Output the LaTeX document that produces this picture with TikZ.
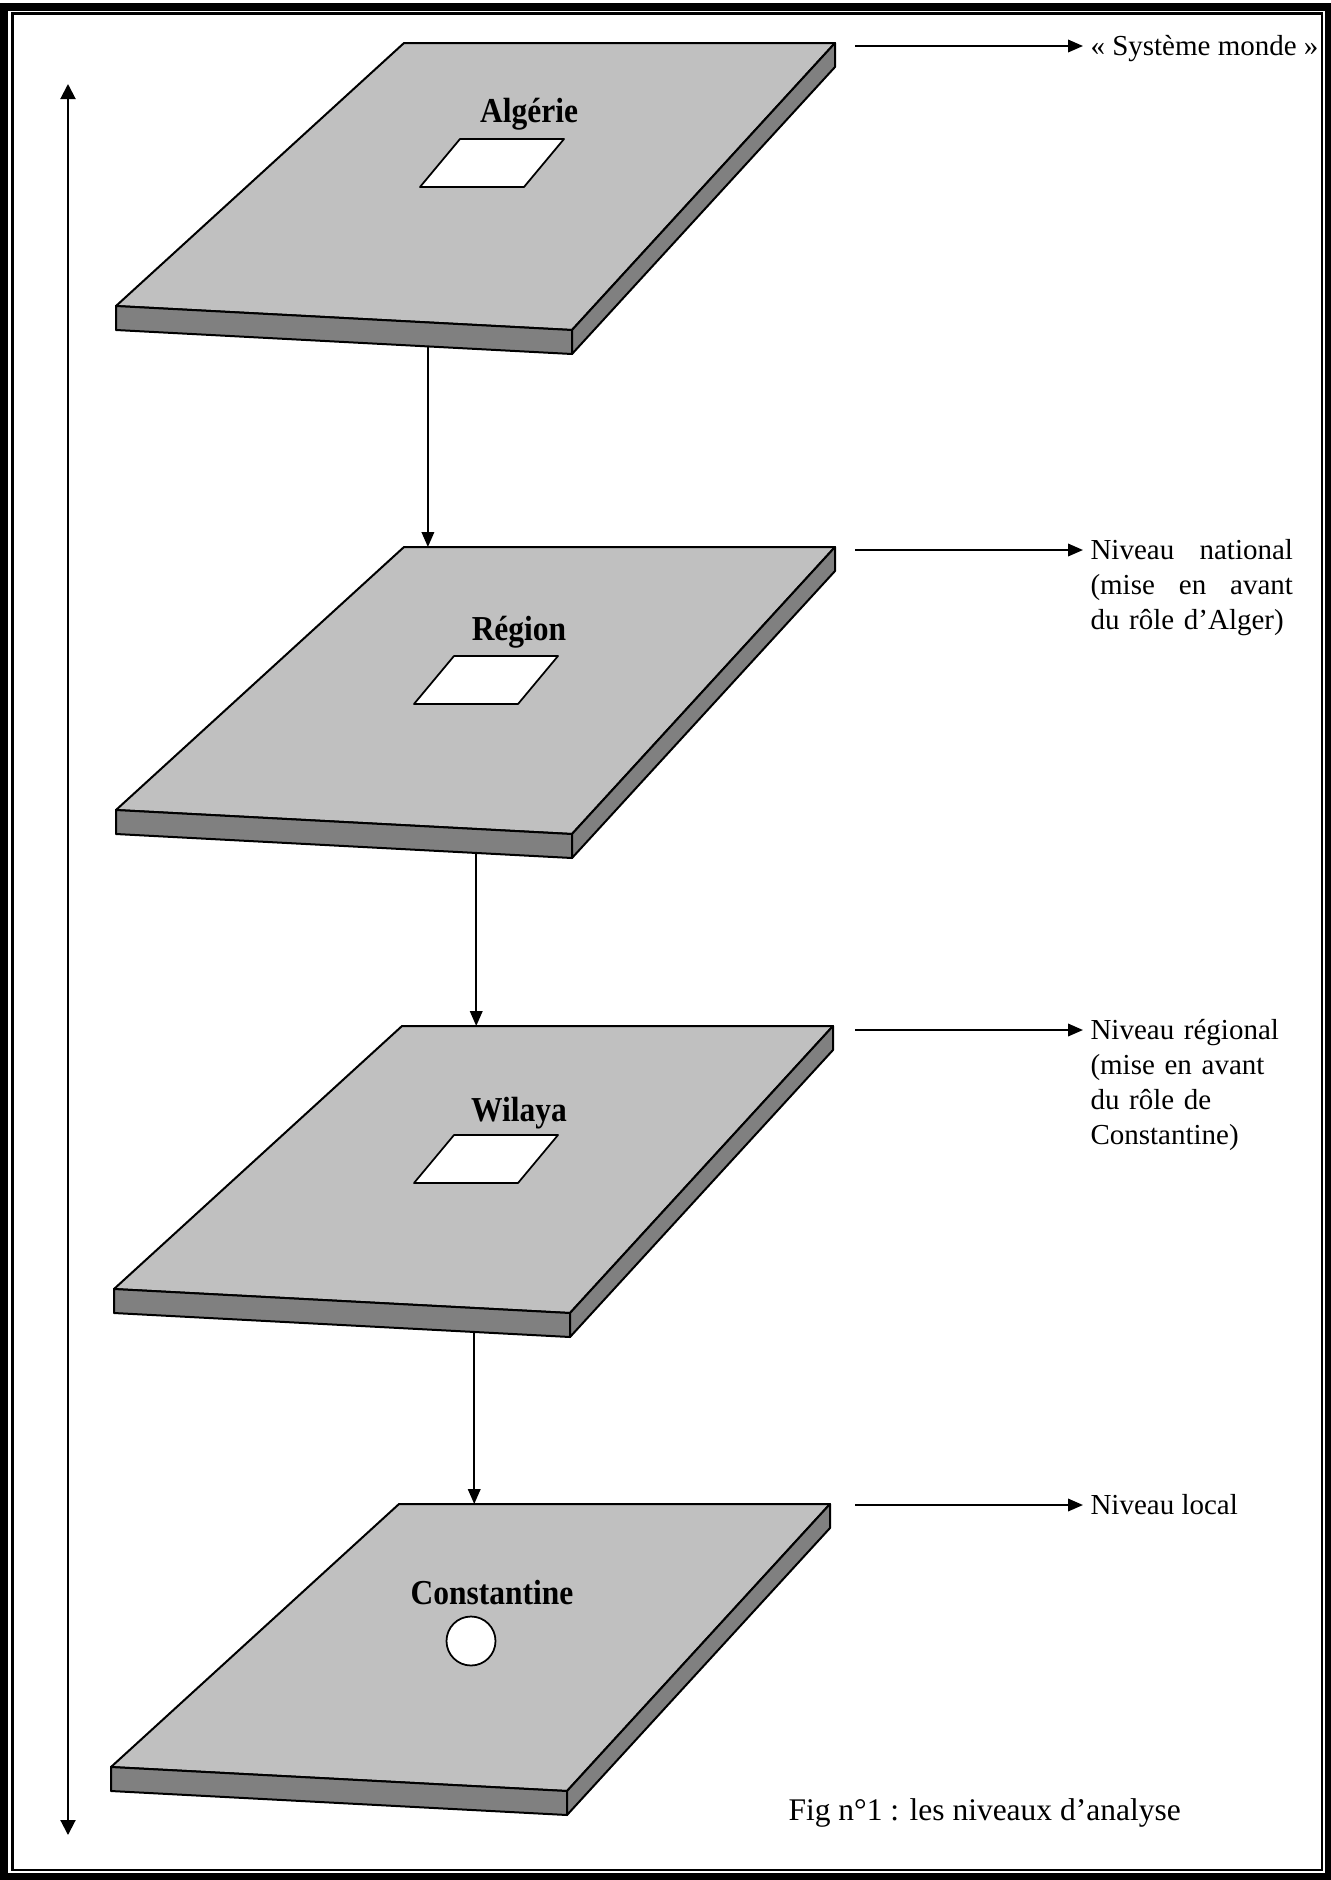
\documentclass[tikz,border=0pt]{standalone}
\usepackage{fontspec}
\usepackage{graphicx}
\setmainfont{Liberation Serif}
\usetikzlibrary{arrows.meta,calc}
\definecolor{topgray}{HTML}{C0C0C0}
\definecolor{sidegray}{HTML}{808080}
\newcommand\slablabel[1]{\scalebox{0.9}[1]{\fontsize{14}{16}\selectfont\bfseries #1}}
\newcommand\fullline[1]{\leavevmode\hbox to 81pt{#1}}
\tikzset{
  slabline/.style={draw=black, line width=0.8pt, line join=round},
  holeline/.style={draw=black, fill=white, line width=0.7pt, line join=round},
  arrowline/.style={line width=0.8pt, -{Triangle[length=6pt,width=5pt]}},
  dblarrow/.style={line width=0.8pt, {Triangle[length=6pt,width=6pt]}-{Triangle[length=6pt,width=6pt]}},
  sidetext/.style={inner sep=0pt, anchor=base west, align=left, font=\fontsize{11.6}{14}\selectfont},
  slabtitle/.style={inner sep=0pt},
  slab/.pic={
    \filldraw[fill=topgray, slabline] (0,0) -- (431,0) -- (168,287) -- (-288,263) -- cycle;
    \filldraw[fill=sidegray, slabline] (-288,263) -- (168,287) -- (168,311) -- (-288,287) -- cycle;
    \filldraw[fill=sidegray, slabline] (431,0) -- (431,24) -- (168,311) -- (168,287) -- cycle;
    \coordinate (-bl) at (0,0);
    \coordinate (-fbl) at (-288,287);
    \coordinate (-fbr) at (168,311);
  }
}
\begin{document}
\begin{tikzpicture}[x=0.4pt,y=-0.4pt]
\useasboundingbox (0,0) rectangle (1331,1880);
% frame
\draw[line width=3.2pt] (4,7) rectangle (1329,1877);
\draw[line width=1pt] (12.5,13.5) rectangle (1322,1870);

% slabs
\pic (s1) at (404,43) {slab};
\pic (s2) at (404,547) {slab};
\pic (s3) at (402,1026) {slab};
\pic (s4) at (399,1504) {slab};

% holes and labels
\filldraw[holeline] (460,139) -- (564,139) -- (524,187) -- (420,187) -- cycle;
\node[slabtitle] (lab1) at (529,114) {\slablabel{Algérie}};
\filldraw[holeline] (454,656) -- (558,656) -- (518,704) -- (414,704) -- cycle;
\node[slabtitle] (lab2) at (519,632) {\slablabel{Région}};
\filldraw[holeline] (454,1135) -- (558,1135) -- (518,1183) -- (414,1183) -- cycle;
\node[slabtitle] (lab3) at (519,1113) {\slablabel{Wilaya}};
\node[circle, draw=black, fill=white, line width=0.7pt, minimum size=49*0.4pt, inner sep=0pt] (city) at (471,1641) {};
\node[slabtitle] (lab4) at (492,1593) {\slablabel{Constantine}};

% vertical arrows between slabs
\coordinate (a1) at ($(s1-fbl)!0.684!(s1-fbr)$);
\coordinate (a2) at ($(s2-fbl)!0.79!(s2-fbr)$);
\coordinate (a3) at ($(s3-fbl)!0.79!(s3-fbr)$);
\draw[arrowline] (a1) -- (a1 |- s2-bl);
\draw[arrowline] (a2) -- (a2 |- s3-bl);
\draw[arrowline] (a3) -- (a3 |- s4-bl);

% left double arrow
\coordinate (ltop) at (68,84);
\coordinate (lbot) at (68,1835);
\draw[dblarrow] (ltop) -- (lbot);

% right labels
\node[sidetext] (t1) at (1090,55) {«~Système monde~»};
\node[sidetext, text width=81pt] (t2) at (1090,559) {\fullline{Niveau\hfill national}\\\fullline{(mise\hfill en\hfill avant}\\du rôle d’Alger)};
\node[sidetext, text width=81pt] (t3) at (1090,1039) {Niveau régional\\(mise en avant\\du rôle de\\Constantine)};
\node[sidetext] (t4) at (1090,1514) {Niveau local};

\coordinate (r1) at (855,46);
\coordinate (r2) at (855,550);
\coordinate (r3) at (855,1030);
\coordinate (r4) at (855,1505);
\draw[arrowline, shorten >=2.8pt] (r1) -- (r1 -| t1.west);
\draw[arrowline, shorten >=2.8pt] (r2) -- (r2 -| t2.west);
\draw[arrowline, shorten >=2.8pt] (r3) -- (r3 -| t3.west);
\draw[arrowline, shorten >=2.8pt] (r4) -- (r4 -| t4.west);

% caption
\node[inner sep=0pt, anchor=base west, font=\fontsize{12.6}{15}\selectfont] (cap) at (788,1820) {Fig n°1 : les niveaux d’analyse};
\end{tikzpicture}
\end{document}
